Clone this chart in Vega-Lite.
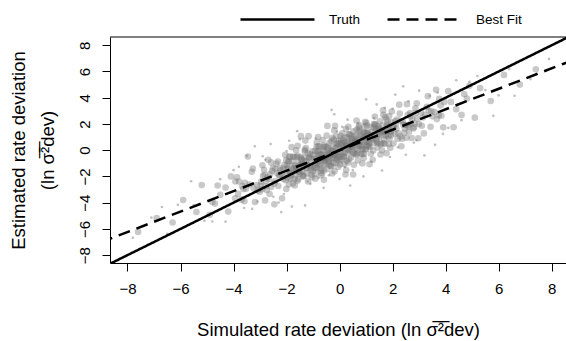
{
"$schema": "https://vega.github.io/schema/vega-lite/v6.json",
"width": 456, "height": 226,
"autosize": {"type": "none"},
"padding": {"left": 110, "top": 37, "right": 0, "bottom": 78},
"background": "white",
"config": {
 "view": {"stroke": null},
 "font": "Liberation Sans",
 "axis": {"domainColor": "black", "tickColor": "black", "labelColor": "black", "titleColor": "black", "grid": false, "tickSize": 8, "labelFontSize": 15, "titleFontSize": 18.5, "titleFontWeight": "normal", "labelFont": "Liberation Sans", "titleFont": "Liberation Sans", "domainWidth": 1, "tickWidth": 1, "labelFlush": false, "labelOverlap": false}
},
"encoding": {
 "x": {"field": "x", "type": "quantitative", "scale": {"domain": [-8.66, 8.54], "nice": false, "zero": false},
   "axis": {"values": [-8,-6,-4,-2,0,2,4,6,8], "labelPadding": 10, "labelOverlap": false, "labelFlush": false, "title": "Simulated rate deviation (ln σ\u0305\u00b2\u0305dev)", "titleY": 72, "titleBaseline": "alphabetic"}},
 "y": {"field": "y", "type": "quantitative", "scale": {"domain": [-8.6, 8.63], "nice": false, "zero": false},
   "axis": {"values": [-8,-6,-4,-2,0,2,4,6,8], "labelAngle": -90, "labelAlign": "center", "labelBaseline": "alphabetic", "labelPadding": 13, "labelOverlap": false, "labelFlush": false,
     "title": ["Estimated rate deviation", "(ln σ\u0305\u00b2\u0305dev)"], "titleX": -86, "titleY": 113, "titleAngle": -90, "titleAlign": "center", "titleBaseline": "alphabetic", "titleLineHeight": 29}}
},
"datasets": {
 "lines": [{"series":"Truth","x":-9,"y":-9},{"series":"Truth","x":9,"y":9},{"series":"Best Fit","x":-9,"y":-7.02},{"series":"Best Fit","x":9,"y":7.02}],
 "frame": [{"x": -8.66, "y": 8.63}, {"x": 8.54, "y": 8.63}],
 "halo": [
{"x":0.3,"y":2.33},{"x":-0.6,"y":-2.87},{"x":1.2,"y":-0.86},{"x":-1.5,"y":0.83},{"x":2.1,"y":4.24},{"x":-2.3,"y":-3.99},{"x":0.9,"y":-2.0},{"x":-0.2,"y":2.74},{"x":1.7,"y":3.23},{"x":-1.1,"y":-2.56},
{"x":2.8,"y":0.58},{"x":-2.9,"y":-0.46},{"x":3.4,"y":4.15},{"x":-3.3,"y":-4.47},{"x":0.5,"y":-1.51},{"x":-0.9,"y":0.9},{"x":1.4,"y":3.49},{"x":-1.8,"y":-4.3},{"x":2.5,"y":-0.35},{"x":-2.6,"y":0.47},
{"x":0.0,"y":-2.2},{"x":0.1,"y":1.78},{"x":-0.4,"y":-1.91},{"x":1.0,"y":3.88},{"x":-1.3,"y":-4.21},{"x":2.2,"y":0.22},{"x":-2.0,"y":-0.06},{"x":3.0,"y":4.54},{"x":-3.1,"y":-3.92},{"x":3.9,"y":1.24},
{"x":-3.8,"y":-1.26},{"x":4.4,"y":5.33},{"x":-4.3,"y":-5.45},{"x":5.2,"y":5.66},{"x":-5.1,"y":-5.38},{"x":5.8,"y":2.62},{"x":-5.6,"y":-2.37},{"x":6.4,"y":6.19},{"x":-6.5,"y":-6.37},{"x":7.9,"y":6.96},
{"x":-7.8,"y":-6.68},{"x":0.7,"y":2.05},{"x":-0.8,"y":-2.12},{"x":1.9,"y":-0.52},{"x":-1.9,"y":0.72},{"x":2.6,"y":3.73},{"x":-2.5,"y":-3.55},{"x":3.6,"y":0.41},{"x":-3.5,"y":-0.43},{"x":4.1,"y":1.7},
{"x":-4.0,"y":-1.52},{"x":4.9,"y":5.22},{"x":-4.8,"y":-5.44},{"x":5.5,"y":4.59},{"x":-5.5,"y":-4.19},{"x":6.0,"y":4.18},{"x":-6.1,"y":-4.16},{"x":6.6,"y":4.15},{"x":-6.7,"y":-4.33},{"x":7.2,"y":5.42},
{"x":-7.1,"y":-5.14},{"x":0.4,"y":-2.69},{"x":-0.3,"y":3.07},{"x":1.6,"y":-1.55},{"x":-1.6,"y":1.45},{"x":2.4,"y":4.87},{"x":-2.2,"y":-4.72},{"x":3.2,"y":-0.4},{"x":-3.2,"y":0.3},{"x":1.3,"y":2.46},
{"x":-1.2,"y":-2.39},{"x":0.2,"y":-1.29},{"x":-0.1,"y":1.42},{"x":2.0,"y":3.16},{"x":-2.1,"y":-3.34},{"x":2.9,"y":0.76},{"x":-2.8,"y":-0.73},{"x":3.7,"y":4.39},{"x":-3.6,"y":-4.41},{"x":4.6,"y":2.29},
{"x":-4.5,"y":-2.21}
 ],
 "pts": [
{"x":0.12,"y":-0.26},{"x":-0.47,"y":0.25},{"x":0.83,"y":0.83},{"x":-0.91,"y":-1.83},{"x":0.35,"y":1.22},{"x":-0.08,"y":-0.57},{"x":0.66,"y":-0.26},{"x":-0.29,"y":-0.09},{"x":0.97,"y":2.17},{"x":-0.62,"y":-0.7},
{"x":0.21,"y":0.59},{"x":-0.75,"y":0.29},{"x":0.54,"y":-1.11},{"x":-0.14,"y":0.2},{"x":0.41,"y":0.26},{"x":-0.96,"y":-0.66},{"x":0.03,"y":1.09},{"x":-0.38,"y":-1.14},{"x":0.78,"y":1.13},{"x":-0.55,"y":-0.83},
{"x":0.27,"y":-0.81},{"x":-0.81,"y":1.01},{"x":0.6,"y":0.72},{"x":-0.22,"y":-0.36},{"x":0.88,"y":0.11},{"x":-0.03,"y":0.69},{"x":0.49,"y":0.4},{"x":-0.69,"y":-1.91},{"x":0.16,"y":-0.54},{"x":-0.44,"y":0.13},
{"x":0.72,"y":1.75},{"x":-0.89,"y":-0.97},{"x":0.08,"y":0.42},{"x":-0.33,"y":-1.21},{"x":0.93,"y":0.6},{"x":-0.58,"y":0.35},{"x":0.31,"y":-0.2},{"x":-0.17,"y":1.85},{"x":0.57,"y":-0.26},{"x":-0.77,"y":-0.39},
{"x":0.44,"y":0.92},{"x":-0.05,"y":-1.28},{"x":0.69,"y":0.61},{"x":-0.51,"y":-1.02},{"x":0.19,"y":0.98},{"x":-0.98,"y":-0.37},{"x":0.86,"y":-0.3},{"x":-0.26,"y":-0.04},{"x":0.38,"y":-0.02},{"x":-0.64,"y":0.78},
{"x":0.05,"y":-0.13},{"x":-0.85,"y":-1.39},{"x":0.62,"y":1.12},{"x":-0.36,"y":-0.38},{"x":0.99,"y":1.1},{"x":-0.11,"y":0.46},{"x":0.25,"y":-1.51},{"x":-0.72,"y":-0.61},{"x":0.52,"y":1.43},{"x":-0.42,"y":-0.8},
{"x":0.74,"y":0.32},{"x":-0.93,"y":-0.05},{"x":0.14,"y":0.15},{"x":-0.59,"y":-1.55},{"x":0.33,"y":1.78},{"x":-0.24,"y":-0.57},{"x":0.81,"y":1.08},{"x":-0.01,"y":-0.82},{"x":0.46,"y":0.62},{"x":-0.67,"y":-0.4},
{"x":0.91,"y":-0.6},{"x":-0.31,"y":0.69},{"x":0.1,"y":-0.48},{"x":-0.83,"y":-0.99},{"x":0.58,"y":0.56},{"x":-0.46,"y":1.85},{"x":0.29,"y":0.97},{"x":-0.12,"y":-0.32},{"x":0.67,"y":0.03},{"x":-0.79,"y":-0.05},
{"x":0.43,"y":-0.56},{"x":-0.57,"y":-0.14},{"x":0.95,"y":1.34},{"x":-0.19,"y":-1.61},{"x":0.22,"y":0.36},{"x":-0.94,"y":-1.33},{"x":0.76,"y":1.58},{"x":-0.4,"y":-0.28},{"x":0.07,"y":0.54},{"x":-0.7,"y":-1.43},
{"x":0.5,"y":0.24},{"x":-0.27,"y":0.94},{"x":0.84,"y":0.29},{"x":-0.53,"y":-0.59},{"x":0.18,"y":-1.06},{"x":-0.87,"y":0.27},{"x":0.36,"y":0.68},{"x":-0.09,"y":-0.74},{"x":0.64,"y":2.26},{"x":-0.63,"y":-0.61},
{"x":-0.07,"y":0.26},{"x":0.52,"y":-0.25},{"x":-0.78,"y":-0.83},{"x":0.96,"y":1.83},{"x":-0.3,"y":-1.22},{"x":0.13,"y":0.57},{"x":-0.61,"y":0.26},{"x":0.34,"y":0.09},{"x":-0.92,"y":-2.17},{"x":0.67,"y":0.7},
{"x":-0.16,"y":-0.59},{"x":0.8,"y":-0.29},{"x":-0.49,"y":1.11},{"x":0.19,"y":-0.2},{"x":-0.36,"y":-0.26},{"x":1.01,"y":0.66},{"x":0.02,"y":-1.09},{"x":0.43,"y":1.14},{"x":-0.73,"y":-1.13},{"x":0.6,"y":0.83},
{"x":-0.22,"y":0.81},{"x":0.86,"y":-1.01},{"x":-0.55,"y":-0.72},{"x":0.27,"y":0.36},{"x":-0.83,"y":-0.11},{"x":0.08,"y":-0.69},{"x":-0.44,"y":-0.4},{"x":0.74,"y":1.91},{"x":-0.11,"y":0.54},{"x":0.49,"y":-0.13},
{"x":-0.67,"y":-1.75},{"x":0.94,"y":0.97},{"x":-0.03,"y":-0.42},{"x":0.38,"y":1.21},{"x":-0.88,"y":-0.6},{"x":0.63,"y":-0.35},{"x":-0.26,"y":0.2},{"x":0.22,"y":-1.85},{"x":-0.52,"y":0.26},{"x":0.82,"y":0.39},
{"x":-0.39,"y":-0.92},{"x":0.1,"y":1.28},{"x":-0.64,"y":-0.61},{"x":0.56,"y":1.02},{"x":-0.14,"y":-0.98},{"x":1.03,"y":0.37},{"x":-0.81,"y":0.3},{"x":0.31,"y":0.04},{"x":-0.33,"y":0.02},{"x":0.69,"y":-0.78},
{"x":0.0,"y":0.13},{"x":0.9,"y":1.39},{"x":-0.57,"y":-1.12},{"x":0.41,"y":0.38},{"x":-0.94,"y":-1.1},{"x":0.16,"y":-0.46},{"x":-0.2,"y":1.51},{"x":0.77,"y":0.61},{"x":-0.47,"y":-1.43},{"x":0.47,"y":0.8},
{"x":-0.69,"y":-0.32},{"x":0.98,"y":0.05},{"x":-0.09,"y":-0.15},{"x":0.64,"y":1.55},{"x":-0.28,"y":-1.78},{"x":0.29,"y":0.57},{"x":-0.76,"y":-1.08},{"x":0.06,"y":0.82},{"x":-0.41,"y":-0.62},{"x":0.72,"y":0.4},
{"x":-0.86,"y":0.6},{"x":0.36,"y":-0.69},{"x":-0.05,"y":0.48},{"x":0.88,"y":0.99},{"x":-0.53,"y":-0.56},{"x":0.51,"y":-1.85},{"x":-0.24,"y":-0.97},{"x":0.17,"y":0.32},{"x":-0.62,"y":-0.03},{"x":0.84,"y":0.05},
{"x":-0.38,"y":0.56},{"x":0.62,"y":0.14},{"x":-0.9,"y":-1.34},{"x":0.24,"y":1.61},{"x":-0.17,"y":-0.36},{"x":0.99,"y":1.33},{"x":-0.71,"y":-1.58},{"x":0.45,"y":0.28},{"x":-0.02,"y":-0.54},{"x":0.75,"y":1.43},
{"x":-0.45,"y":-0.24},{"x":0.32,"y":-0.94},{"x":-0.79,"y":-0.29},{"x":0.58,"y":0.59},{"x":-0.13,"y":1.06},{"x":0.92,"y":-0.27},{"x":-0.31,"y":-0.68},{"x":0.14,"y":0.74},{"x":-0.59,"y":-2.26},{"x":0.68,"y":0.61},
{"x":1.12,"y":0.52},{"x":-1.47,"y":-0.53},{"x":1.83,"y":1.61},{"x":-1.91,"y":-2.61},{"x":1.35,"y":2.0},{"x":-1.08,"y":-1.35},{"x":1.66,"y":0.52},{"x":-1.29,"y":-0.87},{"x":1.97,"y":2.95},{"x":-1.62,"y":-1.48},
{"x":1.21,"y":1.37},{"x":-1.75,"y":-0.49},{"x":1.54,"y":-0.33},{"x":-1.14,"y":-0.58},{"x":1.41,"y":1.04},{"x":-1.96,"y":-1.44},{"x":1.03,"y":1.87},{"x":-1.38,"y":-1.92},{"x":1.78,"y":1.91},{"x":-1.55,"y":-1.61},
{"x":1.27,"y":-0.03},{"x":-1.81,"y":0.23},{"x":1.6,"y":1.5},{"x":-1.22,"y":-1.14},{"x":1.88,"y":0.89},{"x":-1.03,"y":-0.09},{"x":1.49,"y":1.18},{"x":-1.69,"y":-2.69},{"x":1.16,"y":0.24},{"x":-1.44,"y":-0.65},
{"x":1.72,"y":2.53},{"x":-1.89,"y":-1.75},{"x":1.08,"y":1.2},{"x":-1.33,"y":-1.99},{"x":1.93,"y":1.38},{"x":-1.58,"y":-0.43},{"x":1.31,"y":0.58},{"x":-1.17,"y":1.07},{"x":1.57,"y":0.52},{"x":-1.77,"y":-1.17},
{"x":1.44,"y":1.7},{"x":-1.05,"y":-2.06},{"x":1.69,"y":1.39},{"x":-1.51,"y":-1.8},{"x":1.19,"y":1.76},{"x":-1.98,"y":-1.15},{"x":1.86,"y":0.48},{"x":-1.26,"y":-0.82},{"x":1.38,"y":0.76},{"x":-1.64,"y":0.0},
{"x":1.05,"y":0.65},{"x":-1.85,"y":-2.17},{"x":1.62,"y":1.9},{"x":-1.36,"y":-1.16},{"x":1.99,"y":1.88},{"x":-1.11,"y":-0.32},{"x":1.25,"y":-0.73},{"x":-1.72,"y":-1.39},{"x":1.52,"y":2.21},{"x":-1.42,"y":-1.58},
{"x":1.74,"y":1.1},{"x":-1.93,"y":-0.83},{"x":1.14,"y":0.93},{"x":-1.59,"y":-2.33},{"x":1.33,"y":2.56},{"x":-1.24,"y":-1.35},{"x":1.81,"y":1.86},{"x":-1.01,"y":-1.6},{"x":1.46,"y":1.4},{"x":-1.67,"y":-1.18},
{"x":1.91,"y":0.18},{"x":-1.31,"y":-0.09},{"x":1.1,"y":0.3},{"x":-1.83,"y":-1.77},{"x":1.58,"y":1.34},{"x":-1.46,"y":1.07},{"x":1.29,"y":1.75},{"x":-1.12,"y":-1.1},{"x":1.67,"y":0.81},{"x":-1.79,"y":-0.83},
{"x":1.43,"y":0.22},{"x":-1.57,"y":-0.92},{"x":1.95,"y":2.12},{"x":-1.19,"y":-2.39},{"x":1.22,"y":1.14},{"x":-1.94,"y":-2.11},{"x":1.76,"y":2.36},{"x":-1.4,"y":-1.06},{"x":1.07,"y":1.32},{"x":-1.7,"y":-2.21},
{"x":1.5,"y":1.02},{"x":-1.27,"y":0.16},{"x":1.84,"y":1.07},{"x":-1.53,"y":-1.37},{"x":1.18,"y":-0.28},{"x":-1.87,"y":-0.51},{"x":1.36,"y":1.46},{"x":-1.09,"y":-1.52},{"x":1.64,"y":3.04},{"x":-1.63,"y":-1.39},
{"x":-1.16,"y":-0.52},{"x":1.43,"y":0.53},{"x":-1.87,"y":-1.61},{"x":1.87,"y":2.61},{"x":-1.39,"y":-2.0},{"x":1.04,"y":1.35},{"x":-1.7,"y":-0.52},{"x":1.25,"y":0.87},{"x":-2.01,"y":-2.95},{"x":1.58,"y":1.48},
{"x":-1.25,"y":-1.37},{"x":1.71,"y":0.49},{"x":-1.58,"y":0.33},{"x":1.1,"y":0.58},{"x":-1.45,"y":-1.04},{"x":1.92,"y":1.44},{"x":-1.07,"y":-1.87},{"x":1.34,"y":1.92},{"x":-1.82,"y":-1.91},{"x":1.51,"y":1.61},
{"x":-1.31,"y":0.03},{"x":1.77,"y":-0.23},{"x":-1.64,"y":-1.5},{"x":1.18,"y":1.14},{"x":-1.92,"y":-0.89},{"x":0.99,"y":0.09},{"x":-1.53,"y":-1.18},{"x":1.65,"y":2.69},{"x":-1.2,"y":-0.24},{"x":1.4,"y":0.65},
{"x":-1.76,"y":-2.53},{"x":1.85,"y":1.75},{"x":-1.12,"y":-1.2},{"x":1.29,"y":1.99},{"x":-1.97,"y":-1.38},{"x":1.54,"y":0.43},{"x":-1.35,"y":-0.58},{"x":1.13,"y":-1.07},{"x":-1.61,"y":-0.52},{"x":1.73,"y":1.17},
{"x":-1.48,"y":-1.7},{"x":1.01,"y":2.06},{"x":-1.73,"y":-1.39},{"x":1.47,"y":1.8},{"x":-1.23,"y":-1.76},{"x":1.94,"y":1.15},{"x":-1.9,"y":-0.48},{"x":1.22,"y":0.82},{"x":-1.42,"y":-0.76},{"x":1.6,"y":0.0},
{"x":-1.09,"y":-0.65},{"x":1.81,"y":2.17},{"x":-1.66,"y":-1.9},{"x":1.32,"y":1.16},{"x":-2.03,"y":-1.88},{"x":1.07,"y":0.32},{"x":-1.29,"y":0.73},{"x":1.68,"y":1.39},{"x":-1.56,"y":-2.21},{"x":1.38,"y":1.58},
{"x":2.12,"y":2.0},{"x":-2.47,"y":-2.55},{"x":2.83,"y":2.03},{"x":-2.91,"y":-1.15},{"x":2.35,"y":0.88},{"x":-2.08,"y":-1.11},{"x":2.66,"y":2.84},{"x":-2.29,"y":-1.93},{"x":2.97,"y":0.91},{"x":-2.62,"y":-1.82},
{"x":2.21,"y":1.29},{"x":-2.75,"y":-3.03},{"x":2.54,"y":3.51},{"x":-2.14,"y":-1.98},{"x":2.41,"y":1.94},{"x":-2.96,"y":-2.4},{"x":2.03,"y":0.51},{"x":-2.38,"y":-1.02},{"x":2.78,"y":1.65},{"x":-2.55,"y":-1.59},
{"x":2.27,"y":2.79},{"x":-2.81,"y":-3.83},{"x":2.6,"y":1.78},{"x":-2.22,"y":-1.54},{"x":2.88,"y":2.83},{"x":-2.03,"y":-2.29},{"x":2.49,"y":1.92},{"x":-2.69,"y":-0.73},{"x":2.16,"y":2.34},{"x":-2.44,"y":-2.37},
{"x":2.72,"y":0.93},{"x":-2.89,"y":-1.97},{"x":2.08,"y":1.26},{"x":-2.33,"y":-0.87},{"x":2.93,"y":2.42},{"x":-2.58,"y":-2.81},{"x":2.31,"y":2.24},{"x":-2.17,"y":-3.67},{"x":2.57,"y":2.7},{"x":-2.77,"y":-2.37},
{"x":2.44,"y":1.32},{"x":-2.05,"y":-0.36},{"x":2.69,"y":2.03},{"x":-2.51,"y":-1.34},{"x":2.19,"y":0.88},{"x":-2.98,"y":-2.71},{"x":2.86,"y":3.2},{"x":-2.26,"y":-1.92},{"x":2.38,"y":2.18},{"x":-2.64,"y":-3.34},
{"x":2.05,"y":1.77},{"x":-2.85,"y":-1.49},{"x":2.62,"y":1.4},{"x":-2.36,"y":-1.74},{"x":2.99,"y":2.0},{"x":-2.11,"y":-2.2},{"x":2.25,"y":3.47},{"x":-2.72,"y":-2.07},{"x":2.52,"y":0.95},{"x":-2.42,"y":-1.42},
{"x":2.74,"y":2.4},{"x":-2.93,"y":-2.97},{"x":2.14,"y":1.63},{"x":-2.59,"y":-0.93},{"x":2.33,"y":0.3},{"x":-2.24,"y":-1.37},{"x":2.81,"y":1.74},{"x":-2.01,"y":-0.76},{"x":2.46,"y":1.66},{"x":-2.67,"y":-2.2},
{"x":2.91,"y":3.58},{"x":-2.31,"y":-2.73},{"x":2.1,"y":2.2},{"x":-2.83,"y":-1.87},{"x":2.58,"y":1.9},{"x":-2.46,"y":-4.13},{"x":2.29,"y":1.05},{"x":-2.12,"y":-1.42},{"x":2.67,"y":2.57},{"x":-2.79,"y":-2.75},
{"x":3.74,"y":2.66},{"x":-3.93,"y":-2.39},{"x":3.14,"y":2.49},{"x":-3.59,"y":-3.89},{"x":3.33,"y":4.12},{"x":-3.24,"y":-2.91},{"x":3.81,"y":3.42},{"x":-3.01,"y":-3.16},{"x":3.46,"y":2.96},{"x":-3.67,"y":-2.74},
{"x":3.91,"y":1.74},{"x":-3.31,"y":-1.65},{"x":3.1,"y":1.86},{"x":-3.83,"y":-3.33},{"x":3.58,"y":2.9},{"x":-3.46,"y":-0.49},{"x":3.29,"y":3.31},{"x":-3.12,"y":-2.66},{"x":3.67,"y":2.37},{"x":-3.79,"y":-2.39},
{"x":3.43,"y":1.78},{"x":-3.57,"y":-2.48},{"x":3.95,"y":3.68},{"x":-3.19,"y":-3.95},{"x":3.22,"y":2.7},{"x":-3.94,"y":-3.67},{"x":3.76,"y":3.92},{"x":-3.4,"y":-2.62},{"x":3.07,"y":2.88},{"x":-3.7,"y":-3.77},
{"x":3.5,"y":2.58},{"x":-3.27,"y":-1.4},{"x":3.84,"y":2.63},{"x":-3.53,"y":-2.93},{"x":3.18,"y":1.28},{"x":-3.87,"y":-2.07},{"x":3.36,"y":3.02},{"x":-3.09,"y":-3.08},{"x":3.64,"y":4.6},{"x":-3.63,"y":-2.95},
{"x":4.2,"y":3.68},{"x":4.6,"y":2.69},{"x":4.1,"y":4.5},{"x":4.8,"y":3.94},{"x":4.4,"y":3.13},{"x":4.9,"y":4.92},{"x":4.3,"y":1.75},{"x":4.7,"y":4.27},
{"x":-4.3,"y":-2.85},{"x":-4.7,"y":-4.07},{"x":-4.1,"y":-2.0},{"x":-4.9,"y":-4.92},{"x":-4.5,"y":-3.41},{"x":-4.2,"y":-4.68},{"x":-4.6,"y":-2.69},{"x":-4.8,"y":-3.94},
{"x":5.3,"y":4.73},{"x":5.7,"y":3.75},{"x":6.2,"y":5.74},{"x":5.1,"y":2.48},{"x":6.8,"y":5.0},{"x":7.4,"y":6.17},
{"x":-5.4,"y":-4.71},{"x":-5.9,"y":-3.8},{"x":-6.3,"y":-5.51},{"x":-5.2,"y":-2.66},{"x":-6.9,"y":-5.18},{"x":-7.6,"y":-6.23}
 ]
},
"layer": [
 {
  "data": {"name": "halo"},
  "mark": {"type": "circle", "size": 7, "color": "#8c8c8c", "opacity": 0.55}
 },
 {
  "data": {"name": "pts"},
  "mark": {"type": "circle", "size": 44, "color": "#787878", "opacity": 0.4}
 },
 {
  "data": {"name": "lines"},
  "mark": {"type": "line", "clip": true, "color": "black", "strokeWidth": 2.5},
  "encoding": {
   "detail": {"field": "series"},
   "strokeDash": {"field": "series", "type": "nominal", "scale": {"domain": ["Truth", "Best Fit"], "range": [[1, 0], [12, 7]]},
     "legend": {"orient": "none", "legendX": 129, "legendY": -56, "direction": "horizontal", "title": null, "symbolType": "stroke", "symbolSize": 5476, "symbolStrokeWidth": 2.5, "symbolStrokeColor": "black", "labelFontSize": 13.5, "labelFont": "Liberation Sans", "labelColor": "black", "labelOffset": 13, "columnPadding": 21, "padding": 0}}
  }
 },
 {
  "data": {"name": "frame"},
  "mark": {"type": "line", "color": "black", "strokeWidth": 1, "clip": false}
 }
]
}
